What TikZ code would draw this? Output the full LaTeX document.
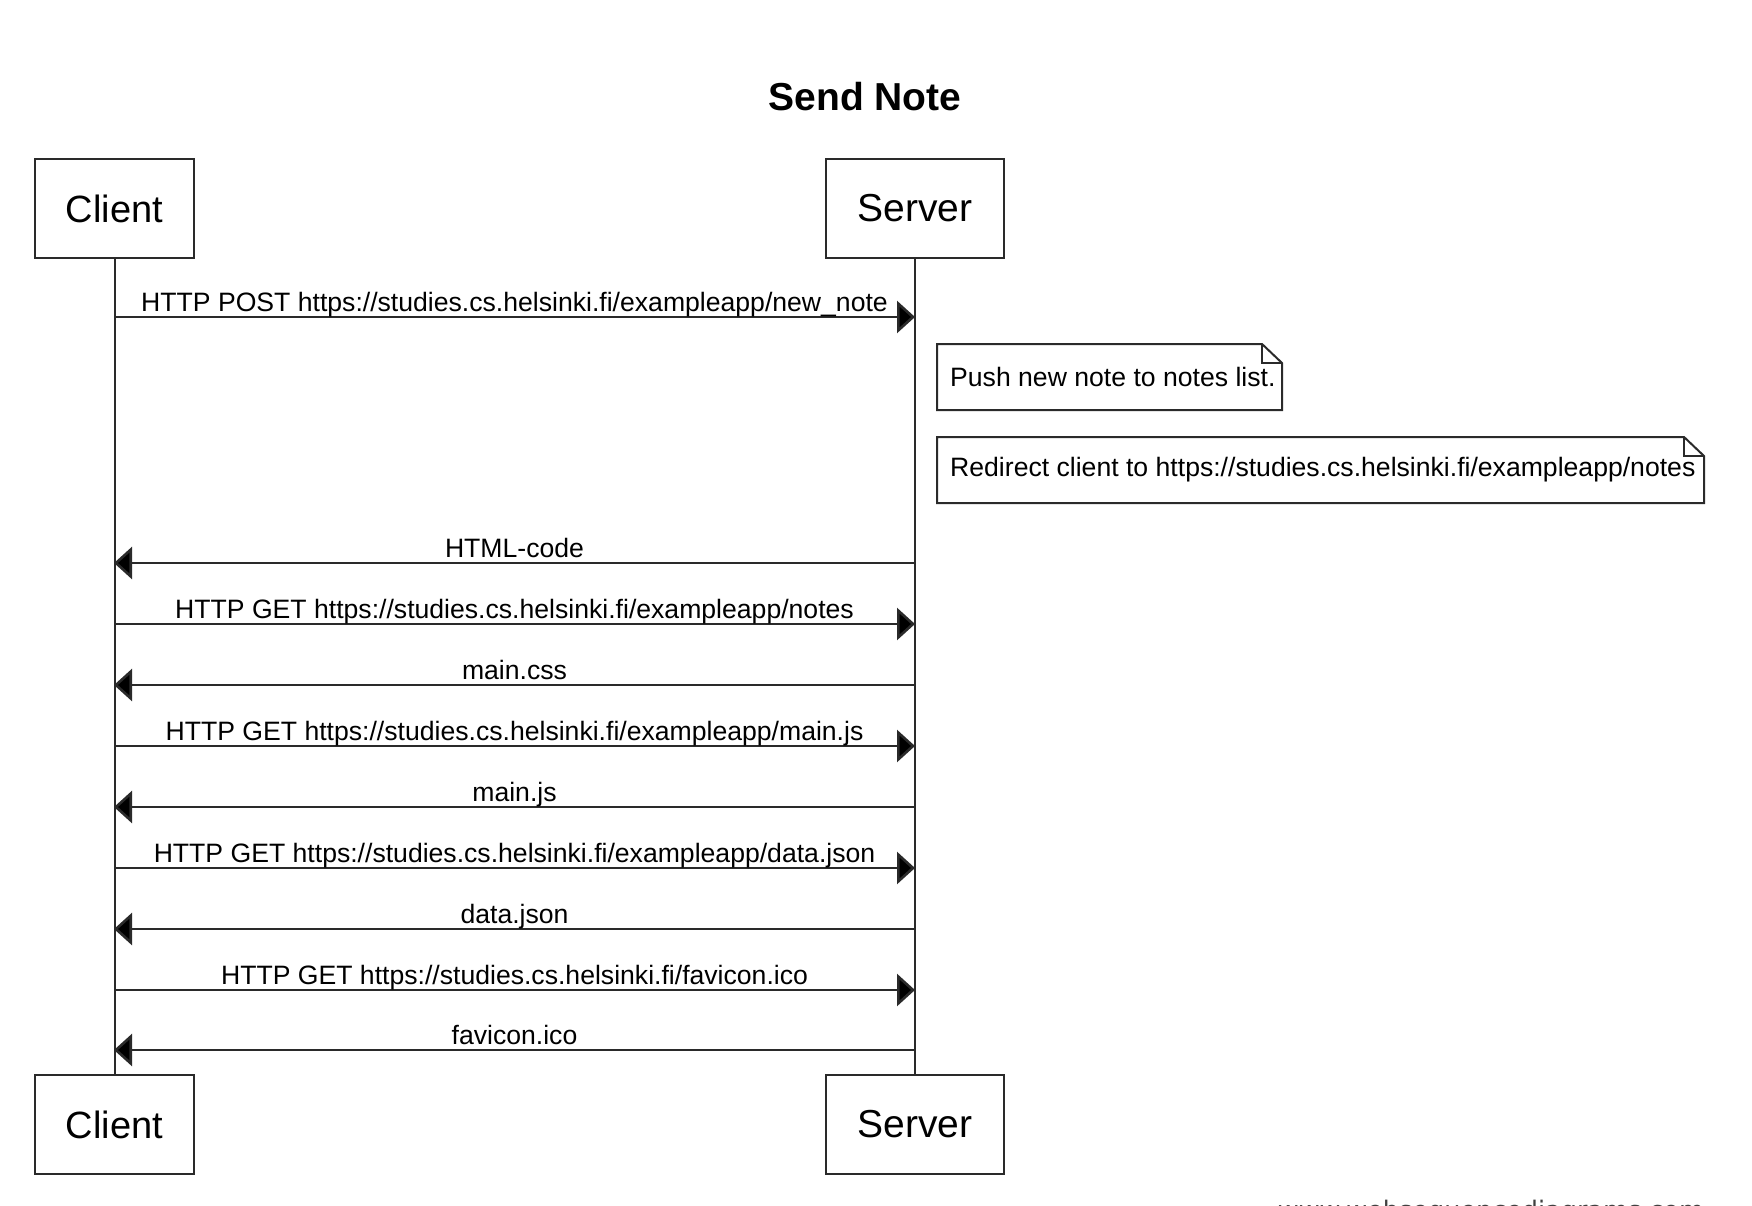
\documentclass[tikz,border=0pt]{standalone}
\usepackage{fontspec}
\setmainfont{Liberation Sans}
\newfontfamily\markfont{DejaVu Sans}
\usetikzlibrary{arrows.meta}

\definecolor{ink}{HTML}{2A2A2A}

\tikzset{
  actor/.style={draw=ink, line width=2pt, fill=white, inner sep=0pt,
    minimum height=99pt},
  actortext/.style={font=\fontsize{39}{44}\selectfont},
  lifeline/.style={draw=ink, line width=2pt},
  msg/.style={draw=ink, line width=2.6pt,
    -{Triangle[length=18pt,width=32pt,fill=black]}},
  msglabel/.style={anchor=base, yshift=6pt, inner sep=0pt,
    font=\fontsize{26.6}{30}\selectfont},
  notebox/.style={draw=ink, line width=2pt, line join=miter},
  notetext/.style={anchor=west, inner sep=0pt,
    font=\fontsize{26.6}{30}\selectfont},
}

\begin{document}
\begin{tikzpicture}[x=1pt, y=-1pt]
  \useasboundingbox (0,0) rectangle (1752,1206);

  % title
  \node[font=\bfseries\fontsize{39}{44}\selectfont, anchor=base]
    (title) at (865,111) {Send Note};

  % participants
  \node[actor, actortext, font=\fontsize{38}{44}\selectfont, minimum width=159pt]
    (cTop) at (114.5,208.5) {Client};
  \node[actor, actortext, minimum width=178pt] (sTop) at (915,208.5) {Server};
  \node[actor, actortext, font=\fontsize{38}{44}\selectfont, minimum width=159pt]
    (cBot) at (114.5,1124.5) {Client};
  \node[actor, actortext, minimum width=178pt] (sBot) at (915,1124.5) {Server};

  % lifelines
  \draw[lifeline] (cTop.south) -- (cBot.north);
  \draw[lifeline] (sTop.south) -- (sBot.north);

  % message anchor points on the lifelines
  \foreach \i/\y in {1/317, 2/563, 3/624, 4/685, 5/746, 6/807,
                     7/868, 8/929, 9/990, 10/1050} {
    \coordinate (c\i) at (114,\y);
    \coordinate (s\i) at (915,\y);
  }

  % messages
  \draw[msg] (c1) -- (s1)
    node[msglabel, midway] (m1) {HTTP POST https://studies.cs.helsinki.fi/exampleapp/new\_note};
  \draw[msg] (s2) -- (c2)
    node[msglabel, midway] (m2) {HTML-code};
  \draw[msg] (c3) -- (s3)
    node[msglabel, midway] (m3) {HTTP GET https://studies.cs.helsinki.fi/exampleapp/notes};
  \draw[msg] (s4) -- (c4)
    node[msglabel, midway] (m4) {main.css};
  \draw[msg] (c5) -- (s5)
    node[msglabel, midway] (m5) {HTTP GET https://studies.cs.helsinki.fi/exampleapp/main.js};
  \draw[msg] (s6) -- (c6)
    node[msglabel, midway] (m6) {main.js};
  \draw[msg] (c7) -- (s7)
    node[msglabel, midway] (m7) {HTTP GET https://studies.cs.helsinki.fi/exampleapp/data.json};
  \draw[msg] (s8) -- (c8)
    node[msglabel, midway] (m8) {data.json};
  \draw[msg] (c9) -- (s9)
    node[msglabel, midway] (m9) {HTTP GET https://studies.cs.helsinki.fi/favicon.ico};
  \draw[msg] (s10) -- (c10)
    node[msglabel, midway] (m10) {favicon.ico};

  % notes with folded corner
  \draw[notebox] (937,344) -- (1262,344) -- (1282,363) -- (1282,410)
    -- (937,410) -- cycle;
  \draw[notebox] (1262,344) -- (1262,363) -- (1282,363);
  \node[notetext] (n1) at (950,377) {Push new note to notes list.};

  \draw[notebox] (937,437) -- (1684,437) -- (1704,456) -- (1704,503)
    -- (937,503) -- cycle;
  \draw[notebox] (1684,437) -- (1684,456) -- (1704,456);
  \node[notetext] (n2) at (950,470) {Redirect client to https://studies.cs.helsinki.fi/exampleapp/notes};

  % footer mark, mostly below the page edge
  \node[anchor=base east, inner sep=0pt, text=black!75,
    font=\markfont\fontsize{25.5}{28}\selectfont]
    (mark) at (1704,1219) {www.websequencediagrams.com};
\end{tikzpicture}
\end{document}
